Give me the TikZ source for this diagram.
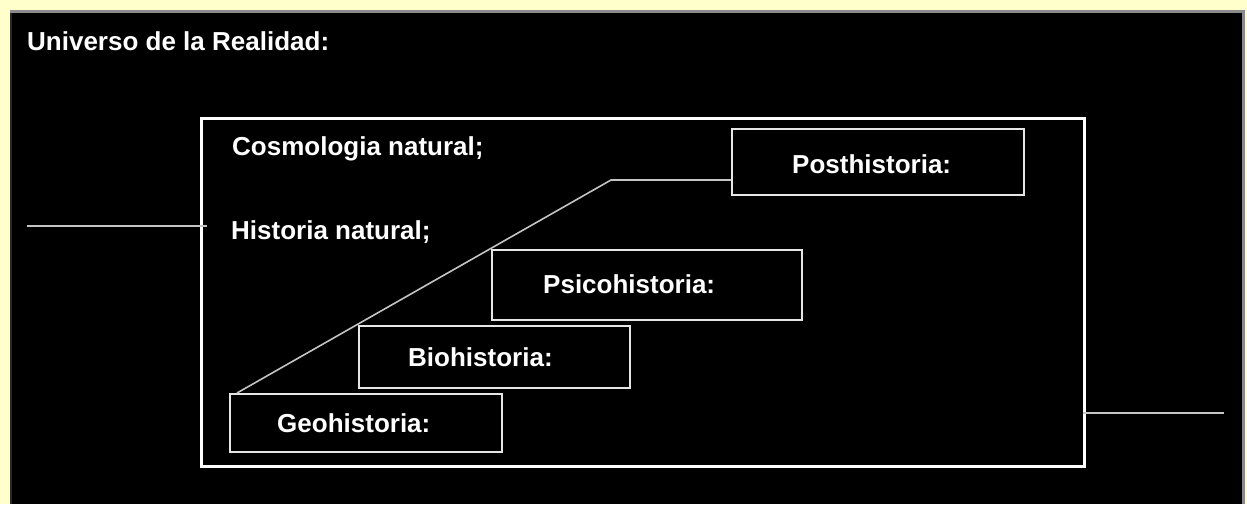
\documentclass[tikz,border=0pt]{standalone}
\usepackage{fontspec}
\setmainfont{Liberation Sans}
\definecolor{bgyellow}{HTML}{FFFFCC}
\definecolor{edgegray}{HTML}{8A8A8A}
\definecolor{boxline}{HTML}{E6E6E6}
\definecolor{thinline}{HTML}{C4C4C4}
\begin{document}
\begin{tikzpicture}[x=1pt,y=-1pt,
  lbl/.style={text=white,font=\fontsize{26}{30}\selectfont\bfseries,inner sep=0pt,anchor=base west},
  stagebox/.style={draw=boxline,line width=2pt,rectangle,inner sep=0pt,anchor=north west},
  thin/.style={draw=thinline,line width=1.6pt}]
\useasboundingbox (0,0) rectangle (1247,504);
\fill[bgyellow] (0,0) rectangle (1247,504);
\fill[black] (10,10) rectangle (1245,504);
\fill[edgegray] (10,10) rectangle (1245,13);
\fill[edgegray] (1242,10) rectangle (1245,504);
\fill[black!70!edgegray] (10,13) rectangle (12,504);
% outer frame
\node[draw=white,line width=3pt,rectangle,inner sep=0pt,anchor=north west,
  minimum width=883pt,minimum height=348pt] (frame) at (200,117) {};
% stage boxes
\node[stagebox,minimum width=272pt,minimum height=58pt] (geo) at (229,393) {};
\node[stagebox,minimum width=271pt,minimum height=62pt] (bio) at (358,325) {};
\node[stagebox,minimum width=310pt,minimum height=70pt] (psi) at (491,249) {};
\node[stagebox,minimum width=292pt,minimum height=66pt] (post) at (731,128) {};
% labels
\node[lbl] (univ) at (27,50) {Universo de la Realidad:};
\node[lbl] (cosmo) at (232,155) {Cosmologia natural;};
\node[lbl] (hist) at (231,239) {Historia natural;};
\node[lbl] (tpost) at (792,173) {Posthistoria:};
\node[lbl] (tpsi) at (543,293) {Psicohistoria:};
\node[lbl] (tbio) at (408,366) {Biohistoria:};
\node[lbl] (tgeo) at (277,432) {Geohistoria:};
% connectors
\coordinate (gs) at (237,393);
\coordinate (bend) at (611,180);
\coordinate (pj) at (731,180);
\draw[thin] (gs) -- (bend) -- (pj);
\coordinate (la) at (27,226);
\coordinate (lb) at (207,226);
\draw[thin] (la) -- (lb);
\coordinate (ra) at (1083,413);
\coordinate (rb) at (1224,413);
\draw[thin] (ra) -- (rb);
\end{tikzpicture}
\end{document}
